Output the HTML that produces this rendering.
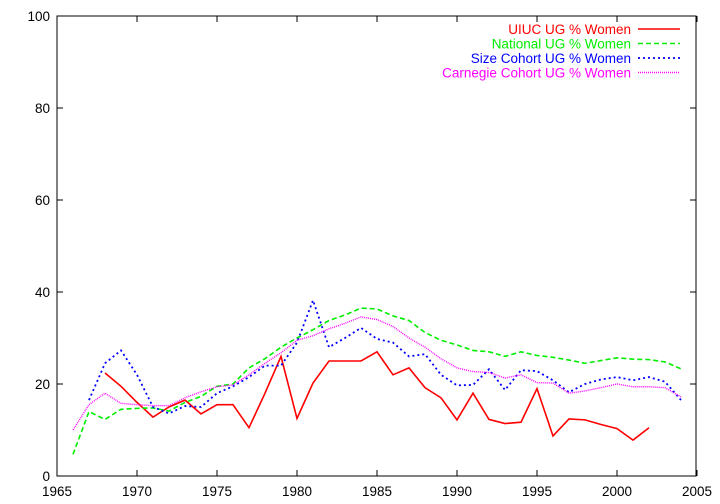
<!DOCTYPE html>
<html><head><meta charset="utf-8"><style>
body{margin:0;background:#fff}
svg{display:block;font-family:"Liberation Sans",sans-serif;font-size:13.5px}
</style></head><body>
<svg id="chart" width="720" height="504" xmlns="http://www.w3.org/2000/svg">
<rect x="57" y="16" width="639" height="460" fill="none" stroke="#000"/>
<g id="axes"></g>
<g id="series"></g>
<g id="legend"></g>
</svg>
<script>
const xTicks=[1965,1970,1975,1980,1985,1990,1995,2000,2005];
const yTicks=[0,20,40,60,80,100];
const uiucStart=1968;
const uiuc=[22.4,19.5,16,12.8,15,16.5,13.5,15.5,15.5,10.5,18,26,12.5,20.2,25,25,25,27,22,23.5,19.2,17,12.2,18,12.3,11.4,11.7,19,8.7,12.4,12.2,11.2,10.3,7.8,10.5];
const nationalStart=1966;
const national=[4.7,14,12.3,14.5,14.7,14.8,14.1,16,17.3,19.5,20,23.5,25.5,28,30,31.8,33.8,35,36.5,36.3,34.8,33.8,31.2,29.5,28.5,27.3,27,26,27,26.2,25.8,25.2,24.5,25.1,25.7,25.4,25.3,24.8,23.3];
const sizeStart=1967;
const sizeCohort=[16.5,24.5,27.3,22,15,13.6,15.2,15,18,19.5,21.5,24,24,29,38.2,28,30,32.2,29.8,29,26,26.5,22,19.7,19.8,23.2,18.7,23,22.8,20.8,18.2,20,21,21.5,20.8,21.5,20.5,16.5];
const carnegieStart=1966;
const carnegie=[10,15.5,18,15.8,15.5,15.3,15.3,17,18.3,19.4,19.8,22,24.5,26.8,29.5,30.5,32,33.2,34.6,34,32.5,30,28,25.5,23.5,22.7,22.5,21.3,22,20.3,20.2,18,18.5,19.2,20,19.4,19.4,19.2,17.2];
const NS="http://www.w3.org/2000/svg";
function X(v){return 57+(v-1965)*16;}
function Y(v){return 476-v*4.6;}
function mk(tag,attrs,parent){const e=document.createElementNS(NS,tag);for(const k in attrs)e.setAttribute(k,attrs[k]);parent.appendChild(e);return e;}
const axes=document.getElementById('axes');
xTicks.forEach(t=>{
  const l=mk('line',{x1:X(t),x2:X(t),y1:476,y2:470,stroke:'#000'},axes);
  
  
  const l2=mk('line',{x1:X(t),x2:X(t),y1:16,y2:22,stroke:'#000'},axes);
  
  
  const tx=mk('text',{x:X(t),y:496,'text-anchor':'middle'},axes);tx.textContent=t;
  
  
});
yTicks.forEach(t=>{
  const l=mk('line',{x1:57,x2:63,y1:Y(t),y2:Y(t),stroke:'#000'},axes);
  
  
  const l2=mk('line',{x1:696,x2:690,y1:Y(t),y2:Y(t),stroke:'#000'},axes);
  
  
  const tx=mk('text',{x:50,y:Y(t)+5,'text-anchor':'end'},axes);tx.textContent=t;
  
  
});
const defs=[
 {name:'UIUC UG % Women',start:uiucStart,data:uiuc,color:'#ff0000',dash:'',w:1.6,key:'uiuc'},
 {name:'National UG % Women',start:nationalStart,data:national,color:'#00ee00',dash:'5,3',w:1.6,key:'national'},
 {name:'Size Cohort UG % Women',start:sizeStart,data:sizeCohort,color:'#0000ff',dash:'2,3',w:1.8,key:'size-cohort'},
 {name:'Carnegie Cohort UG % Women',start:carnegieStart,data:carnegie,color:'#ff00ff',dash:'1,1',w:1.4,key:'carnegie-cohort'}
];
const sg=document.getElementById('series'),lg=document.getElementById('legend');
defs.forEach((s,i)=>{
  const pts=s.data.map((v,j)=>X(s.start+j)+','+Y(v)).join(' ');
  const p=mk('polyline',{points:pts,fill:'none',stroke:s.color,'stroke-width':s.w,'stroke-dasharray':s.dash},sg);
  
  
  const y=29+i*14.5;
  const t=mk('text',{x:631,y:y+5,'text-anchor':'end',fill:s.color},lg);t.textContent=s.name;
  
  
  const ll=mk('line',{x1:638,x2:680,y1:y,y2:y,stroke:s.color,'stroke-width':s.w,'stroke-dasharray':s.dash},lg);
  
  
});
</script>
</body></html>
